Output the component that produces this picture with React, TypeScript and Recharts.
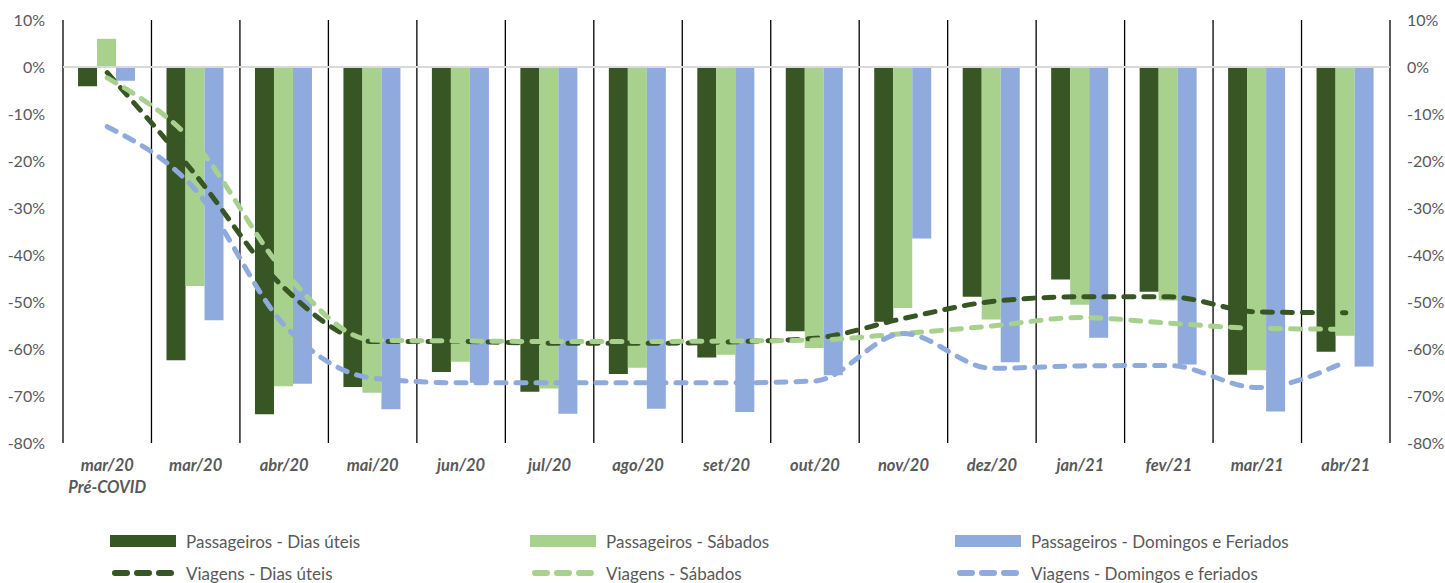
import React from 'react';
import { ComposedChart, Bar, Line, XAxis, YAxis, CartesianGrid, ReferenceLine } from 'recharts';

const categories = ['mar/20\nPré-COVID', 'mar/20', 'abr/20', 'mai/20', 'jun/20', 'jul/20', 'ago/20', 'set/20', 'out/20', 'nov/20', 'dez/20', 'jan/21', 'fev/21', 'mar/21', 'abr/21'];

const passDiasUteis = [-4.1, -62.4, -73.9, -68.1, -64.9, -69.1, -65.3, -61.8, -56.2, -54.2, -48.9, -45.2, -47.8, -65.5, -60.6];
const passSabados = [6.0, -46.6, -67.9, -69.3, -62.7, -68.4, -64.0, -61.2, -59.8, -51.3, -53.7, -50.6, -49.7, -64.5, -57.2];
const passDomingos = [-2.9, -53.9, -67.4, -72.8, -67.2, -73.8, -72.7, -73.4, -65.6, -36.5, -62.8, -57.6, -63.3, -73.3, -63.7];

const viagDiasUteis = [-1.2, -23.0, -47.0, -58.4, -58.4, -58.8, -58.8, -58.5, -57.7, -53.5, -49.9, -48.9, -48.9, -52.1, -52.3];
const viagSabados = [-2.3, -16.5, -43.5, -58.1, -58.3, -58.4, -58.4, -58.3, -58.1, -56.7, -55.1, -53.3, -54.5, -55.6, -55.8];
const viagDomingos = [-12.7, -26.2, -54.9, -66.2, -67.2, -67.2, -67.2, -67.2, -66.8, -56.7, -64.1, -63.6, -63.5, -68.2, -62.7];

const yTicks = [-80, -70, -60, -50, -40, -30, -20, -10, 0, 10];

const DARK = '#375623';
const LIGHT = '#A9D18E';
const BLUE = '#8FAADC';
const FONT = 'Lato, "Open Sans", sans-serif';

const data = categories.map((c, i) => ({
  cat: c,
  pDias: passDiasUteis[i],
  pSab: passSabados[i],
  pDom: passDomingos[i],
  vDias: viagDiasUteis[i],
  vSab: viagSabados[i],
  vDom: viagDomingos[i],
}));

const legendItems = [
  { name: 'Passageiros - Dias úteis', color: DARK, kind: 'bar', x: 110, y: 541 },
  { name: 'Passageiros - Sábados', color: LIGHT, kind: 'bar', x: 530, y: 541 },
  { name: 'Passageiros - Domingos e Feriados', color: BLUE, kind: 'bar', x: 955, y: 541 },
  { name: 'Viagens - Dias úteis', color: DARK, kind: 'line', x: 110, y: 573 },
  { name: 'Viagens - Sábados', color: LIGHT, kind: 'line', x: 530, y: 573 },
  { name: 'Viagens - Domingos e feriados', color: BLUE, kind: 'line', x: 955, y: 573 },
];

function XTick(props: any) {
  const { x, y, payload } = props;
  const lines = String(payload.value).split('\n');
  return (
    <text x={x} y={y} textAnchor="middle" fill="#595959" fontSize={16.5} fontWeight={700} fontStyle="italic" fontFamily={FONT}>
      {lines.map((l, i) => (
        <tspan key={i} x={x} dy={i === 0 ? 20 : 22}>{l}</tspan>
      ))}
    </text>
  );
}

const lineProps = { strokeWidth: 5, strokeDasharray: '10 10', strokeLinecap: 'round' as const, dot: false, isAnimationActive: false };

export default function App() {
  return (
    <div style={{ position: 'absolute', left: 0, top: 0, width: 1445, height: 583, background: '#fff', fontFamily: FONT }}>
      <ComposedChart
        width={1445}
        height={583}
        data={data}
        margin={{ top: 20, right: 0, left: 8, bottom: 90 }}
        barCategoryGap="17%"
        barGap={0}
      >
        <CartesianGrid
          horizontal={false}
          stroke="#000"
          strokeWidth={1.3}
          verticalCoordinatesGenerator={({ offset }: any) =>
            Array.from({ length: categories.length + 1 }, (_, i) => offset.left + (offset.width * i) / categories.length)
          }
        />
        <XAxis dataKey="cat" axisLine={false} tickLine={false} tick={<XTick />} height={50} interval={0} />
        <YAxis
          yAxisId="left"
          domain={[-80, 10]}
          ticks={yTicks}
          width={55}
          axisLine={false}
          tickLine={false}
          tickSize={0}
          tickMargin={18}
          tickFormatter={(v) => `${v}%`}
          tick={{ fill: '#595959', fontSize: 16, fontFamily: FONT }}
        />
        <YAxis
          yAxisId="right"
          orientation="right"
          domain={[-80, 10]}
          ticks={yTicks}
          width={55}
          axisLine={false}
          tickLine={false}
          tickSize={0}
          tickMargin={17}
          tickFormatter={(v) => `${v}%`}
          tick={{ fill: '#595959', fontSize: 16, fontFamily: FONT, textAnchor: 'start' }}
        />
        <Bar yAxisId="left" dataKey="pDias" name="Passageiros - Dias úteis" fill={DARK} isAnimationActive={false} />
        <Bar yAxisId="left" dataKey="pSab" name="Passageiros - Sábados" fill={LIGHT} isAnimationActive={false} />
        <Bar yAxisId="left" dataKey="pDom" name="Passageiros - Domingos e Feriados" fill={BLUE} isAnimationActive={false} />
        <ReferenceLine yAxisId="left" y={0} stroke="#D9D9D9" strokeWidth={2} />
        <Line yAxisId="right" type="monotone" dataKey="vDias" name="Viagens - Dias úteis" stroke={DARK} {...lineProps} />
        <Line yAxisId="right" type="monotone" dataKey="vSab" name="Viagens - Sábados" stroke={LIGHT} {...lineProps} />
        <Line yAxisId="right" type="monotone" dataKey="vDom" name="Viagens - Domingos e feriados" stroke={BLUE} {...lineProps} />
      </ComposedChart>
      {legendItems.map((it) => (
        <div key={it.name} style={{ position: 'absolute', left: it.x, top: it.y - 11, height: 22, display: 'flex', alignItems: 'center' }}>
          <svg width={66} height={14} style={{ marginRight: 10 }}>
            {it.kind === 'bar' ? (
              <rect x={0} y={1} width={66} height={12} fill={it.color} />
            ) : (
              <line x1={5} y1={7} x2={62} y2={7} stroke={it.color} strokeWidth={6} strokeDasharray="12 10" strokeLinecap="round" />
            )}
          </svg>
          <span style={{ fontSize: 17, color: '#595959', whiteSpace: 'nowrap' }}>{it.name}</span>
        </div>
      ))}
    </div>
  );
}
